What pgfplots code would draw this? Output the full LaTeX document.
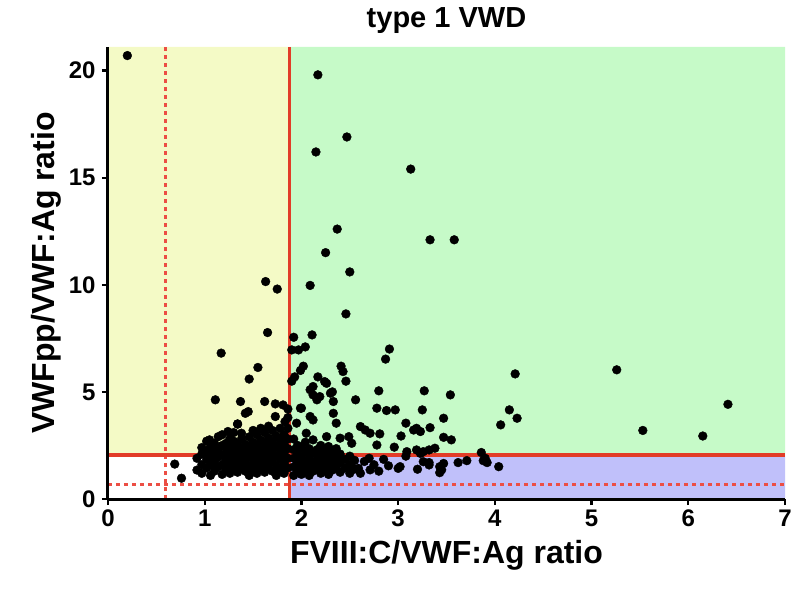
\documentclass[border=0pt]{standalone}
\usepackage{pgfplots}
\pgfplotsset{compat=1.18}
\usepackage{fontspec}
\setmainfont{Liberation Sans}
\definecolor{ylw}{RGB}{244,250,198}
\definecolor{grn}{RGB}{198,250,200}
\definecolor{blu}{RGB}{192,192,250}
\definecolor{redl}{RGB}{226,60,40}
\definecolor{redd}{RGB}{236,78,68}
\begin{document}
\begin{tikzpicture}
\begin{axis}[
  scale only axis, width=677bp, height=452bp,
  xmin=0, xmax=7, ymin=0, ymax=21.1,
  axis lines*=left,
  axis line style={line width=3bp, black},
  axis on top,
  xtick={0,1,...,7}, ytick={0,5,10,15,20},
  tick align=outside, major tick length=6bp,
  tick style={line width=2.2bp, black},
  /pgf/number format/assume math mode=true,
  ticklabel style={font=\fontsize{24bp}{26bp}\selectfont\bfseries},
  xticklabel style={yshift=-1bp},
  yticklabel style={xshift=-3bp},
  xlabel={FVIII:C/VWF:Ag ratio},
  ylabel={VWFpp/VWF:Ag ratio},
  label style={font=\fontsize{32bp}{34bp}\selectfont\bfseries},
  xlabel style={at={(axis description cs:0.5,-0.142)}, anchor=base},
  ylabel style={at={(axis description cs:-0.079,0.5)}, anchor=base},
  title={type 1 VWD},
  title style={font=\fontsize{29bp}{31bp}\selectfont\bfseries, at={(axis description cs:0.5,1.030)}, anchor=base},
]
% background regions
\addplot[draw=none, fill=ylw] coordinates {(0,2.05) (1.88,2.05) (1.88,21.1) (0,21.1) (0,2.05)};
\addplot[draw=none, fill=grn] coordinates {(1.88,2.05) (7,2.05) (7,21.1) (1.88,21.1) (1.88,2.05)};
\addplot[draw=none, fill=blu] coordinates {(1.88,0) (7,0) (7,2.05) (1.88,2.05) (1.88,0)};
% data
\addplot[only marks, mark=*, mark size=4.4bp, black] table {
x y
0.20 20.7
0.69 1.63
0.76 0.97
0.92 1.35
0.92 1.90
0.97 1.20
0.97 1.60
0.97 2.10
0.97 2.40
1.02 1.45
1.02 1.85
1.02 2.25
1.02 2.70
1.06 1.10
1.06 1.60
1.06 2.00
1.06 2.40
1.10 1.30
1.10 1.75
1.10 2.20
1.10 2.60
1.05 2.76
1.14 1.50
1.14 1.95
1.14 2.35
1.14 2.91
1.18 1.15
1.18 1.60
1.18 2.05
1.18 2.50
1.18 3.00
1.22 1.40
1.22 1.80
1.22 2.20
1.22 2.60
1.24 3.15
1.26 1.20
1.26 1.65
1.26 2.00
1.26 2.40
1.26 2.80
1.30 1.45
1.30 1.90
1.30 2.30
1.30 2.70
1.30 3.10
1.34 1.25
1.34 1.70
1.34 2.10
1.34 2.50
1.34 3.50
1.38 1.50
1.38 1.95
1.38 2.35
1.38 2.80
1.38 3.07
1.42 1.30
1.42 1.75
1.42 2.15
1.42 2.55
1.42 4.00
1.45 4.08
1.46 1.10
1.46 1.55
1.46 2.00
1.46 2.45
1.46 2.90
1.50 1.40
1.50 1.85
1.50 2.25
1.50 2.65
1.50 3.20
1.54 1.20
1.54 1.65
1.54 2.05
1.54 2.50
1.54 3.00
1.58 1.45
1.58 1.90
1.58 2.30
1.58 2.75
1.58 3.30
1.62 1.25
1.62 1.70
1.62 2.15
1.62 2.60
1.62 3.10
1.62 4.55
1.66 1.50
1.66 1.95
1.66 2.40
1.66 2.85
1.66 3.40
1.70 1.30
1.70 1.75
1.70 2.20
1.70 2.65
1.70 3.20
1.74 1.10
1.74 1.55
1.74 2.00
1.74 2.45
1.74 2.95
1.73 3.85
1.73 4.44
1.78 1.40
1.78 1.85
1.78 2.30
1.78 2.75
1.78 3.30
1.82 1.20
1.82 1.65
1.82 2.10
1.82 2.55
1.82 3.00
1.83 3.61
1.81 4.39
1.86 1.45
1.86 1.90
1.86 2.35
1.86 2.80
1.86 3.30
1.86 3.80
1.86 4.20
1.11 4.63
1.37 4.55
1.34 3.50
1.46 5.60
1.55 6.14
1.17 6.81
1.65 7.77
1.63 10.15
1.75 9.80
1.92 1.10
1.92 1.50
1.92 1.90
1.92 2.30
1.92 2.80
1.95 3.54
1.96 1.30
1.96 1.70
1.96 2.10
1.96 2.50
2.00 1.15
2.00 1.55
2.00 1.95
2.00 2.40
2.00 4.24
2.04 1.35
2.04 1.75
2.04 2.20
2.04 2.65
2.05 3.07
2.08 1.10
2.08 1.50
2.08 1.90
2.08 2.35
2.09 3.85
2.12 3.69
2.12 1.30
2.12 1.70
2.12 2.15
2.12 2.76
2.16 1.45
2.16 1.85
2.16 2.30
2.20 1.20
2.20 1.60
2.20 2.05
2.20 2.50
2.24 1.40
2.24 1.80
2.24 2.25
2.26 2.91
2.28 1.15
2.28 1.55
2.28 2.00
2.28 2.45
2.32 1.35
2.32 1.75
2.32 2.20
2.33 4.00
2.36 1.50
2.36 1.90
2.36 2.35
2.36 3.54
2.40 1.25
2.40 1.70
2.40 2.10
2.40 2.84
2.45 1.45
2.45 1.85
2.49 2.91
2.50 1.20
2.50 1.60
2.50 2.00
2.52 2.60
2.55 1.40
2.55 1.80
2.59 1.43
2.61 1.20
2.61 3.38
2.65 1.75
2.66 3.22
2.71 3.07
2.71 1.36
2.70 1.90
2.75 1.60
2.78 2.52
2.80 1.30
2.85 1.85
2.90 1.55
2.56 4.63
2.78 4.24
2.88 4.13
2.97 4.16
2.80 5.05
3.27 5.05
3.54 4.86
3.25 4.16
3.47 3.77
4.15 4.16
4.23 3.77
4.06 3.46
3.08 3.54
3.16 3.22
3.23 3.15
3.33 3.33
3.03 2.94
2.81 3.04
3.47 2.88
3.55 2.76
2.96 2.42
3.32 2.29
3.38 2.37
3.08 2.00
3.23 2.13
3.09 2.21
3.19 2.29
3.26 2.21
3.86 2.17
3.90 1.90
3.92 1.70
4.04 1.51
3.02 1.51
3.00 1.43
3.20 1.39
3.32 1.70
3.43 1.51
3.43 1.23
3.47 1.66
3.62 1.70
3.71 1.79
3.26 1.74
3.32 1.59
3.45 1.36
3.88 1.79
3.19 3.30
2.09 5.10
2.12 4.86
2.16 4.63
2.12 5.25
2.26 5.40
2.30 4.94
2.33 4.55
2.32 5.00
2.19 4.78
1.99 4.24
2.17 5.70
2.24 5.48
2.41 6.20
2.43 5.95
2.46 5.50
2.02 6.20
1.99 6.00
1.93 5.70
1.90 5.50
1.90 6.96
1.97 6.96
2.04 7.10
1.92 7.55
2.11 7.66
2.46 8.64
2.09 9.97
2.50 10.60
2.25 11.50
2.37 12.60
3.33 12.10
3.58 12.10
3.13 15.40
2.15 16.20
2.47 16.90
2.17 19.80
2.91 7.00
2.87 6.53
4.21 5.84
5.26 6.03
5.53 3.20
6.15 2.94
6.41 4.42
};
% threshold lines
\addplot[redd, line width=3bp, dash pattern=on 4bp off 4bp] coordinates {(0.59,0) (0.59,21.1)};
\addplot[redd, line width=3bp, dash pattern=on 4bp off 4bp] coordinates {(0,0.7) (7,0.7)};
\addplot[redl, line width=3.2bp] coordinates {(1.88,0) (1.88,21.1)};
\addplot[redl, line width=3.2bp] coordinates {(0,2.05) (7,2.05)};
\end{axis}
\path (current axis.south west) ++(-108bp,-95bp);
\path (current axis.north east) ++(19bp,47bp);
\end{tikzpicture}
\end{document}
